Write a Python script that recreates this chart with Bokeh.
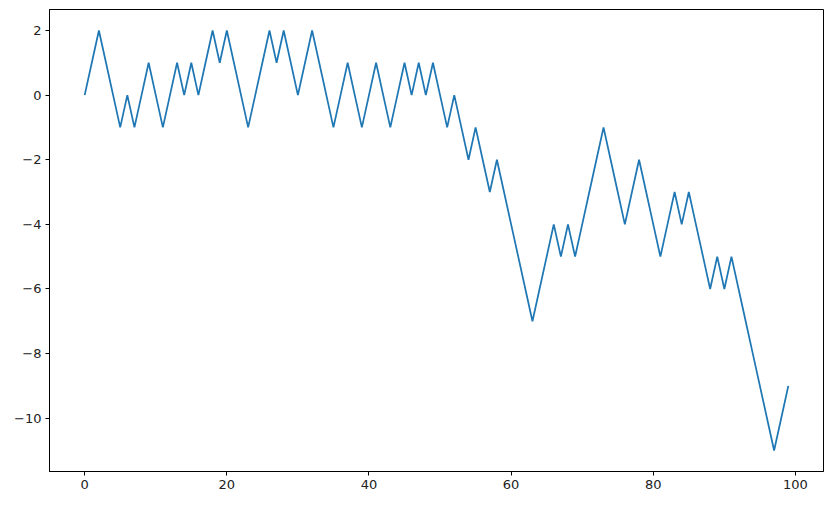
from bokeh.plotting import figure
from bokeh.models import Range1d, FixedTicker
from bokeh.embed import file_html
from bokeh.resources import INLINE

# Random walk positions (step index 0..99)
steps = list(range(100))
walk = [0, 1, 2, 1, 0, -1, 0, -1, 0, 1,
        0, -1, 0, 1, 0, 1, 0, 1, 2, 1,
        2, 1, 0, -1, 0, 1, 2, 1, 2, 1,
        0, 1, 2, 1, 0, -1, 0, 1, 0, -1,
        0, 1, 0, -1, 0, 1, 0, 1, 0, 1,
        0, -1, 0, -1, -2, -1, -2, -3, -2, -3,
        -4, -5, -6, -7, -6, -5, -4, -5, -4, -5,
        -4, -3, -2, -1, -2, -3, -4, -3, -2, -3,
        -4, -5, -4, -3, -4, -3, -4, -5, -6, -5,
        -6, -5, -6, -7, -8, -9, -10, -11, -10, -9]

x_ticks = [0, 20, 40, 60, 80, 100]
y_ticks = [-10, -8, -6, -4, -2, 0, 2]

xmin, xmax = min(steps), max(steps)
ymin, ymax = min(walk), max(walk)
xpad = 0.05 * (xmax - xmin)
ypad = 0.05 * (ymax - ymin)

p = figure(width=834, height=505, output_backend="svg", toolbar_location=None,
           x_range=Range1d(xmin - xpad, xmax + xpad),
           y_range=Range1d(ymin - ypad, ymax + ypad),
           min_border_left=49, min_border_right=11, min_border_top=9, min_border_bottom=34)

p.line(steps, walk, line_color="#1f77b4", line_width=1.75)

p.grid.visible = False
p.outline_line_color = "black"
p.outline_line_width = 1
p.background_fill_color = "white"
p.border_fill_color = "white"

for ax in (p.xaxis[0], p.yaxis[0]):
    ax.axis_line_color = "black"
    ax.axis_line_width = 1
    ax.major_tick_line_color = "black"
    ax.major_tick_out = 4
    ax.major_tick_in = 0
    ax.minor_tick_line_color = None
    ax.major_label_text_font = "DejaVu Sans"
    ax.major_label_text_font_size = "13px"
    ax.major_label_text_color = "#222222"
    ax.major_label_standoff = 4

p.xaxis[0].ticker = FixedTicker(ticks=x_ticks)
p.yaxis[0].ticker = FixedTicker(ticks=y_ticks)
p.xaxis[0].major_label_overrides = {t: str(t).replace("-", "\u2212") for t in x_ticks}
p.yaxis[0].major_label_overrides = {t: str(t).replace("-", "\u2212") for t in y_ticks}

open("out.html", "w").write(file_html(p, INLINE))
